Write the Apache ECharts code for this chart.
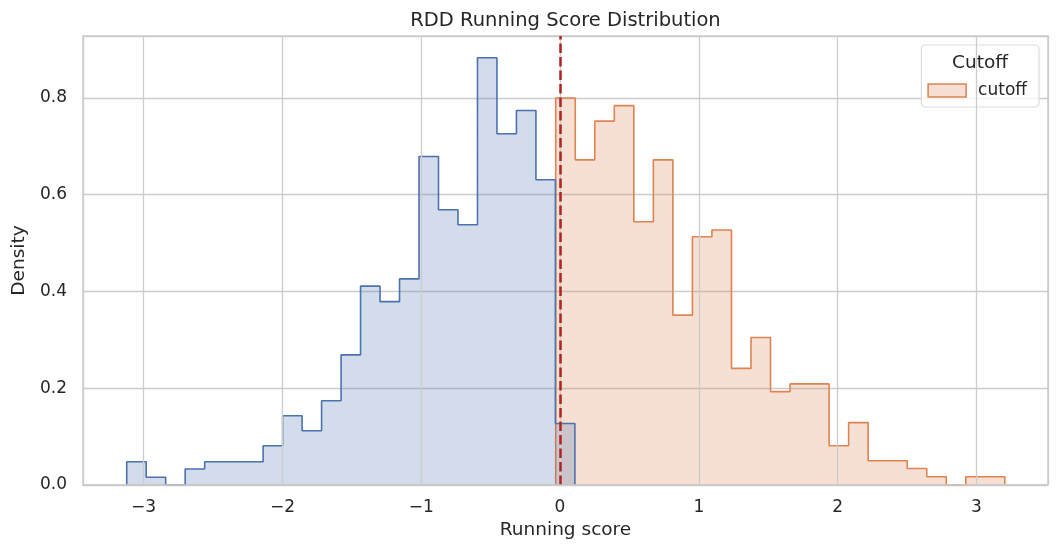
<!DOCTYPE html>
<html>
<head>
<meta charset="utf-8">
<title>RDD Running Score Distribution</title>
<script src="https://cdn.jsdelivr.net/npm/echarts@6.0.0/dist/echarts.min.js"></script>
<style>
    html, body { margin: 0; padding: 0; background: #fff; }
    #main { width: 1060px; height: 556px; }
</style>
</head>
<body>
<div id="main"></div>
<script>
// histogram bins (density per bin)
var belowStart = -3.122;
var belowWidth = 0.1404;
var belowDensity = [0.048, 0.016, 0, 0.033, 0.048, 0.048, 0.048, 0.081, 0.143, 0.112, 0.174, 0.269,
    0.411, 0.379, 0.426, 0.679, 0.569, 0.538, 0.883, 0.726, 0.774, 0.631, 0.127];

var aboveStart = -0.031;
var aboveWidth = 0.1407;
var aboveDensity = [0.800, 0.672, 0.752, 0.784, 0.544, 0.672, 0.351, 0.513, 0.527, 0.241, 0.305, 0.193,
    0.209, 0.209, 0.081, 0.129, 0.050, 0.050, 0.034, 0.017, 0, 0.017, 0.017];

var cutoffValue = 0;
var xTicks = [-3, -2, -1, 0, 1, 2, 3];
var yTicks = [0.0, 0.2, 0.4, 0.6, 0.8];

var font = 'DejaVu Sans';
var textColor = '#262626';

// step outline of a histogram: (edge, 0) -> up/across each bin -> back to 0
function stepOutline(start, width, dens) {
    var pts = [[start, 0]];
    for (var i = 0; i < dens.length; i++) {
        pts.push([start + i * width, dens[i]]);
        pts.push([start + (i + 1) * width, dens[i]]);
    }
    pts.push([start + dens.length * width, 0]);
    return pts;
}

var myChart = echarts.init(document.getElementById('main'));

var option = {
    animation: false,
    textStyle: { fontFamily: font, color: textColor },
    grid: {
        left: 83, right: 12, top: 36, bottom: 71,
        show: true, borderColor: '#cccccc', borderWidth: 1.5
    },
    graphic: [
        {
            type: 'text', x: 565.5, y: 21, z: 10,
            style: { text: 'RDD Running Score Distribution', fontFamily: font, fontSize: 19.5,
                fill: textColor, align: 'center', verticalAlign: 'middle' }
        },
        {
            type: 'text', x: 980, y: 63, z: 10,
            style: { text: 'Cutoff', fontFamily: font, fontSize: 18.5,
                fill: textColor, align: 'center', verticalAlign: 'middle' }
        }
    ],
    legend: {
        right: 21, top: 45,
        padding: [37, 12, 8, 6],
        backgroundColor: 'rgba(255,255,255,0.8)',
        borderColor: '#dddddd', borderWidth: 1.2, borderRadius: 4,
        itemWidth: 38, itemHeight: 13,
        textStyle: { fontFamily: font, fontSize: 17, color: textColor, padding: [0, 0, 0, 7] },
        data: [{
            name: 'cutoff', icon: 'rect',
            itemStyle: { color: 'rgba(221,132,82,0.25)', borderColor: '#dd8452', borderWidth: 1.5 }
        }]
    },
    xAxis: {
        type: 'value',
        z: 5,
        min: -3.437, max: 3.516,
        minInterval: 1, maxInterval: 1,
        name: 'Running score',
        nameLocation: 'middle', nameGap: 33,
        nameTextStyle: { fontFamily: font, fontSize: 18.5, color: textColor },
        axisLine: { show: true, lineStyle: { color: '#cccccc', width: 1.5 } },
        axisTick: { show: false },
        axisLabel: {
            interval: 0, showMinLabel: false, showMaxLabel: false,
            margin: 14, fontSize: 17, color: textColor, fontFamily: font,
            formatter: function (v) {
                return xTicks.indexOf(v) < 0 ? '' : String(v).replace('-', '\u2212');
            }
        },
        splitLine: { show: true, lineStyle: { color: '#cccccc', width: 1.3 } }
    },
    yAxis: {
        type: 'value',
        min: 0, max: 0.928, interval: 0.2,
        name: 'Density',
        nameLocation: 'middle', nameGap: 48,
        nameTextStyle: { fontFamily: font, fontSize: 18.5, color: textColor },
        axisLine: { show: false },
        axisTick: { show: false },
        axisLabel: {
            showMaxLabel: false,
            margin: 16, fontSize: 17, color: textColor, fontFamily: font,
            formatter: function (v) { return v.toFixed(1); }
        },
        splitLine: { show: true, lineStyle: { color: '#cccccc', width: 1.3 } }
    },
    series: [
        {
            name: 'cutoff',
            type: 'line',
            data: stepOutline(aboveStart, aboveWidth, aboveDensity),
            showSymbol: false,
            silent: true,
            z: 2,
            itemStyle: { color: '#dd8452' },
            lineStyle: { color: '#dd8452', width: 1.6 },
            areaStyle: { color: '#dd8452', opacity: 0.25 }
        },
        {
            name: 'below cutoff',
            type: 'line',
            data: stepOutline(belowStart, belowWidth, belowDensity),
            showSymbol: false,
            silent: true,
            z: 3,
            itemStyle: { color: '#4c72b0' },
            lineStyle: { color: '#4c72b0', width: 1.6 },
            areaStyle: { color: '#4c72b0', opacity: 0.25 },
            markLine: {
                silent: true,
                symbol: 'none',
                label: { show: false },
                lineStyle: { color: '#b22222', width: 2.5, type: [9.4, 4.1], opacity: 1 },
                data: [{ xAxis: cutoffValue }]
            }
        }
    ]
};

myChart.setOption(option);
</script>
</body>
</html>
